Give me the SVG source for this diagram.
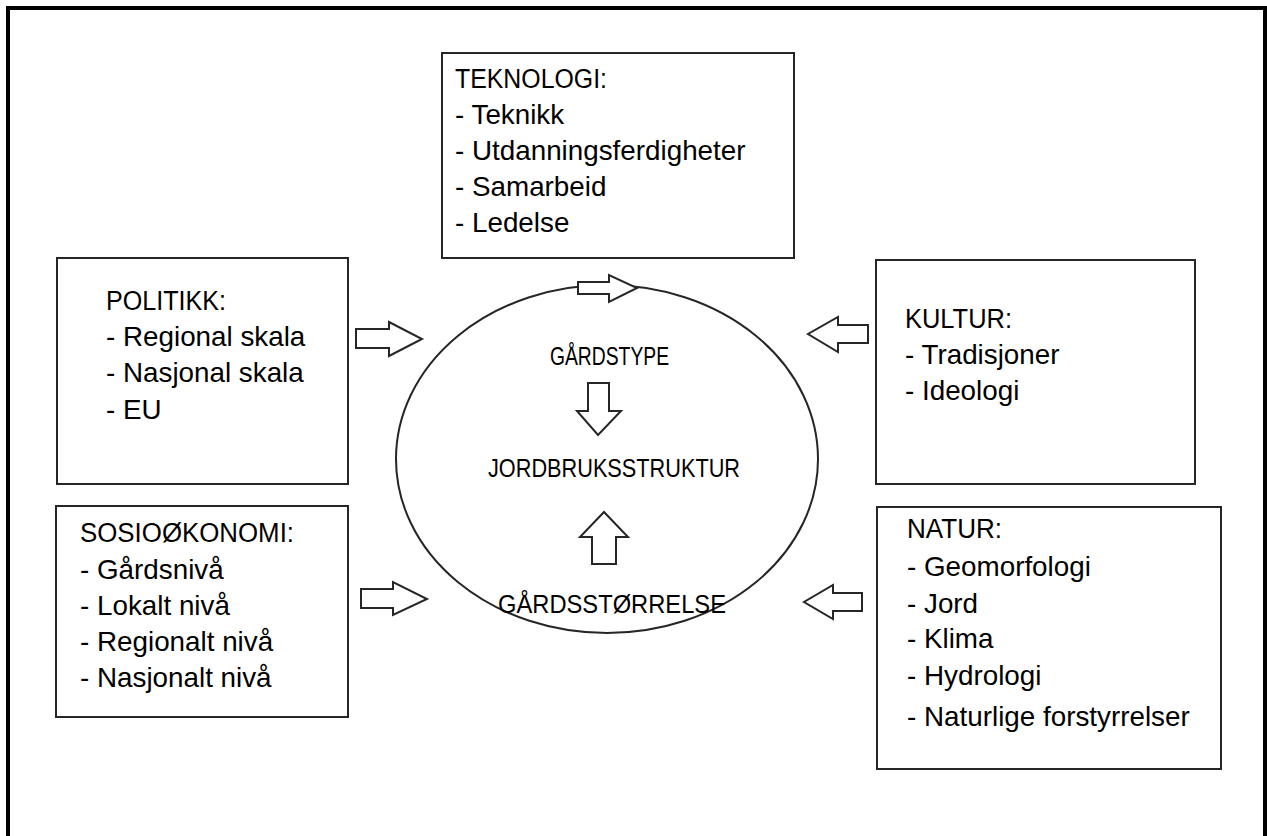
<svg xmlns="http://www.w3.org/2000/svg" width="1267" height="836" viewBox="0 0 1267 836">
<style>
.box{fill:#fff;stroke:#262626;stroke-width:2}
.arr{fill:#fff;stroke:#262626;stroke-width:2;stroke-linejoin:miter}
text{font-family:"Liberation Sans",Arial,sans-serif;font-size:27.8px;fill:#000}
.h{font-size:27px}
.m{font-size:26.5px}
</style>
<rect x="0" y="0" width="1267" height="836" fill="#fff"/>
<rect x="8" y="8" width="1257" height="900" fill="none" stroke="#000" stroke-width="4"/>
<g id="center">
<ellipse cx="607" cy="459" rx="211" ry="174" fill="none" stroke="#262626" stroke-width="2"/>
<text class="m" x="550" y="365" textLength="119" lengthAdjust="spacingAndGlyphs">GÅRDSTYPE</text>
<text class="m" x="488" y="477" textLength="252" lengthAdjust="spacingAndGlyphs">JORDBRUKSSTRUKTUR</text>
<text class="m" x="498" y="613" textLength="228" lengthAdjust="spacingAndGlyphs">GÅRDSSTØRRELSE</text>
</g>
<g id="teknologi">
<rect class="box" x="442" y="53" width="352" height="205"/>
<text class="h" x="455" y="88" textLength="152" lengthAdjust="spacingAndGlyphs">TEKNOLOGI:</text>
<text x="455" y="124">- Teknikk</text>
<text x="455" y="160">- Utdanningsferdigheter</text>
<text x="455" y="196">- Samarbeid</text>
<text x="455" y="232">- Ledelse</text>
</g>
<g id="politikk">
<rect class="box" x="57" y="258" width="291" height="226"/>
<text class="h" x="106" y="310" textLength="120" lengthAdjust="spacingAndGlyphs">POLITIKK:</text>
<text x="106" y="346">- Regional skala</text>
<text x="106" y="382">- Nasjonal skala</text>
<text x="106" y="419">- EU</text>
</g>
<g id="kultur">
<rect class="box" x="876" y="260" width="319" height="224"/>
<text class="h" x="905" y="328" textLength="107" lengthAdjust="spacingAndGlyphs">KULTUR:</text>
<text x="905" y="364">- Tradisjoner</text>
<text x="905" y="400">- Ideologi</text>
</g>
<g id="sosiookonomi">
<rect class="box" x="56" y="506" width="292" height="211"/>
<text class="h" x="80" y="542" textLength="214" lengthAdjust="spacingAndGlyphs">SOSIOØKONOMI:</text>
<text x="80" y="579">- Gårdsnivå</text>
<text x="80" y="615">- Lokalt nivå</text>
<text x="80" y="651">- Regionalt nivå</text>
<text x="80" y="687">- Nasjonalt nivå</text>
</g>
<g id="natur">
<rect class="box" x="877" y="507" width="344" height="262"/>
<text class="h" x="907" y="538" textLength="95" lengthAdjust="spacingAndGlyphs">NATUR:</text>
<text x="907" y="576">- Geomorfologi</text>
<text x="907" y="613">- Jord</text>
<text x="907" y="648">- Klima</text>
<text x="907" y="685">- Hydrologi</text>
<text x="907" y="726">- Naturlige forstyrrelser</text>
</g>
<g id="connectors">
<polygon class="arr" points="578,282 609,282 609,275 637,288 609,302 609,294 578,294"/>
<polygon class="arr" points="356,329 389,329 389,322 422,339 389,356 389,348 356,348"/>
<polygon class="arr" points="868,325 838,325 838,317 808,334 838,352 838,343 868,343"/>
<polygon class="arr" points="588,383 609,383 609,411 621,411 598,435 577,411 588,411"/>
<polygon class="arr" points="592,564 616,564 616,537 628,537 604,512 580,537 592,537"/>
<polygon class="arr" points="361,589 393,589 393,582 427,599 393,615 393,608 361,608"/>
<polygon class="arr" points="862,593 833,593 833,585 804,602 833,619 833,611 862,611"/>
</g>
</svg>
